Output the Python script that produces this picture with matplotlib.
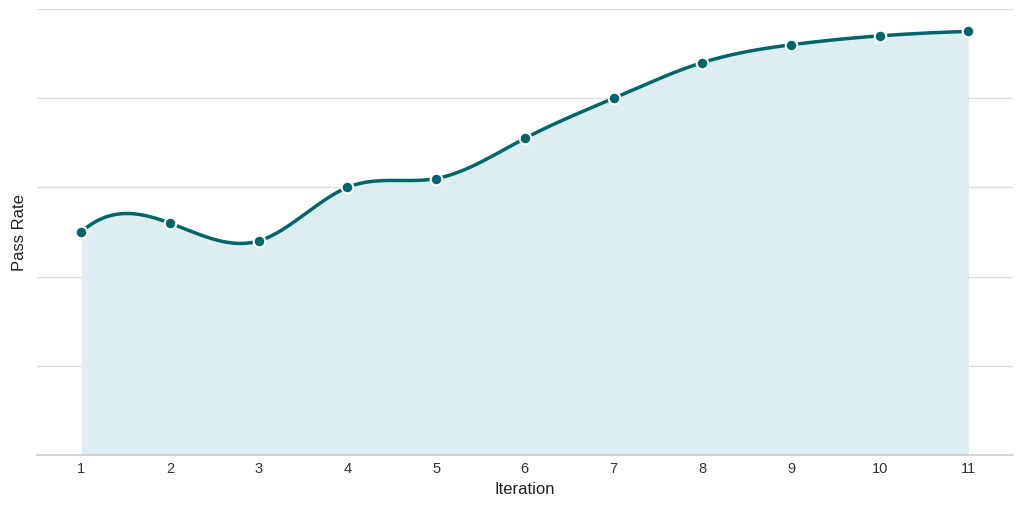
import numpy as np
import matplotlib
matplotlib.use("Agg")
import matplotlib.pyplot as plt

iterations = [1, 2, 3, 4, 5, 6, 7, 8, 9, 10, 11]
pass_rate = [0.50, 0.52, 0.48, 0.60, 0.62, 0.71, 0.80, 0.88, 0.92, 0.94, 0.95]


def bspl_basis(t, k, xv):
    n = len(t) - k - 1
    xv = np.atleast_1d(xv)
    B = np.zeros((len(xv), len(t) - 1))
    for j in range(len(t) - 1):
        B[:, j] = ((xv >= t[j]) & (xv < t[j + 1])).astype(float)
    last = np.max(np.nonzero(t[:-1] < t[1:])[0])
    B[xv == t[-1], :] = 0
    B[xv == t[-1], last] = 1
    for d in range(1, k + 1):
        Bn = np.zeros((len(xv), len(t) - 1 - d))
        for j in range(len(t) - 1 - d):
            a = t[j + d] - t[j]
            b = t[j + d + 1] - t[j + 1]
            term = 0
            if a > 0:
                term = term + (xv - t[j]) / a * B[:, j]
            if b > 0:
                term = term + (t[j + d + 1] - xv) / b * B[:, j + 1]
            Bn[:, j] = term
        B = Bn
    return B[:, :n]


def cubic_interp(x, y, xs):
    # cubic interpolating spline, not-a-knot ends
    x = np.asarray(x, float); y = np.asarray(y, float)
    t = np.r_[(x[0],) * 4, x[2:-2], (x[-1],) * 4]
    c = np.linalg.solve(bspl_basis(t, 3, x), y)
    return bspl_basis(t, 3, xs) @ c


plt.rcParams['font.family'] = ['Liberation Sans', 'DejaVu Sans']

fig = plt.figure(figsize=(10.24, 5.06), dpi=100)
ax = fig.add_axes([0.036, 0.099, 0.953, 0.881])

xs = np.linspace(iterations[0], iterations[-1], 500)
ys = cubic_interp(iterations, pass_rate, xs)
ax.fill_between(xs, 0, ys, color='#deedf2', zorder=1, linewidth=0)
ax.plot(xs, ys, color='#00666b', linewidth=2.5, zorder=3, solid_capstyle='round')
ax.scatter(iterations, pass_rate, s=70, color='#00666b', edgecolors='white',
           linewidths=1.5, zorder=4)

ax.set_xlim(0.5, 11.5)
ax.set_ylim(0, 1.0)
ax.set_xticks(iterations)
ax.set_yticks([0, 0.2, 0.4, 0.6, 0.8, 1.0])
ax.set_yticklabels([])
ax.tick_params(axis='y', length=0)
ax.tick_params(axis='x', length=0, labelsize=10.5, labelcolor='#333333', pad=4.5)
ax.grid(axis='y', color='#dddddd', linewidth=1, zorder=0)
ax.set_axisbelow(True)
for s in ['top', 'right', 'left']:
    ax.spines[s].set_visible(False)
ax.spines['bottom'].set_color('#cccccc')
ax.spines['bottom'].set_linewidth(1.2)
ax.set_xlabel('Iteration', fontsize=12, color='#222222', labelpad=4)
ax.set_ylabel('Pass Rate', fontsize=12, color='#222222', labelpad=3.5)

fig.savefig('out.png', dpi=100)
